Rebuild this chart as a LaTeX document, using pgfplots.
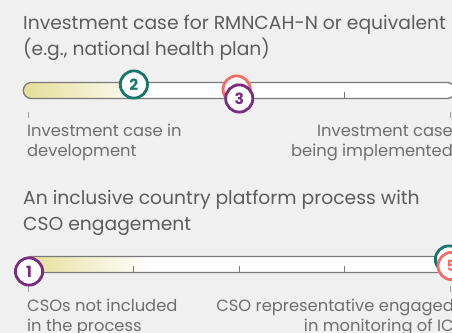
\documentclass[border=0pt]{standalone}
\usepackage{fontspec}
\setmainfont{Poppins}
\usepackage{pgfplots}
\pgfplotsset{compat=1.18}

\definecolor{bgc}{HTML}{F0F0F0}
\definecolor{titlec}{HTML}{5C5C5C}
\definecolor{labelc}{HTML}{6E6E6E}
\definecolor{trackc}{HTML}{7A7A7A}
\definecolor{tickc}{HTML}{A0A0A0}
\definecolor{fadec}{HTML}{E4DE98}
\definecolor{tealc}{HTML}{17766B}
\definecolor{coralc}{HTML}{F26D68}
\definecolor{plumc}{HTML}{7A2C7E}

% yellow only on the left part of the track, white from about x=150px
\pgfdeclarehorizontalshading{fadebar}{100bp}{color(0bp)=(fadec); color(25bp)=(fadec); color(39.7bp)=(white); color(100bp)=(white)}

\newcommand{\titlefont}{\fontsize{18.8}{18.8}\selectfont}
\newcommand{\labelfont}{\fontsize{16.4}{16.4}\selectfont}

\pgfplotsset{
  scalebar/.style={
    hide axis, clip=false,
    x=105.375bp, y=1bp,
    xmin=0, xmax=4, ymin=-15, ymax=15,
    anchor=origin,
  },
  marker/.style={
    only marks, mark=*, mark size=13.6bp,
    mark options={fill=white, draw=#1, line width=2.8bp},
    point meta=explicit symbolic,
    nodes near coords,
    every node near coord/.style={anchor=center, inner sep=0pt, text=#1,
      font=\fontsize{15.5}{15.5}\selectfont\bfseries},
  },
}

% the track: pill, fade, inner ticks at 1,2,3 and end ticks below
\newcommand{\track}{%
  \shade[shading=fadebar, rounded corners=8bp] (axis cs:-0.0494,-8) rectangle (axis cs:4.0494,8);
  \draw[trackc, line width=1.3bp, rounded corners=8bp] (axis cs:-0.0494,-8) rectangle (axis cs:4.0494,8);
  \draw[trackc, line width=0.9bp] (axis cs:1,-8) -- (axis cs:1,-1.5);
  \draw[trackc, line width=0.9bp] (axis cs:2,-8) -- (axis cs:2,-1.5);
  \draw[trackc, line width=0.9bp] (axis cs:3,-8) -- (axis cs:3,-1.5);
  \draw[tickc, line width=1bp] (axis cs:0,-21.5) -- (axis cs:0,-27.5);
  \draw[tickc, line width=1bp] (axis cs:4,-21.5) -- (axis cs:4,-27.5);
}

\begin{document}
\begin{tikzpicture}
\useasboundingbox (0,0) rectangle (452bp,-333bp);
\clip (0,0) rectangle (452bp,-333bp);
\fill[bgc] (0,0) rectangle (452bp,-333bp);

% --- section 1 ---
\node[anchor=base west, inner sep=0pt, text=titlec, font=\titlefont] at (23bp,-29.3bp) {Investment case for RMNCAH-N or equivalent};
\node[anchor=base west, inner sep=0pt, text=titlec, font=\titlefont] at (23bp,-55bp) {(e.g., national health plan)};

\begin{axis}[scalebar, at={(28.5bp,-90.5bp)}]
\track
\addplot[marker=tealc] coordinates {(1,6) [2]};
\addplot[marker=coralc] coordinates {(1.975,1) [3]};
\addplot[marker=plumc] coordinates {(2,-8) [3]};
\end{axis}

\node[anchor=base west, inner sep=0pt, text=labelc, font=\labelfont] at (27bp,-136.7bp) {Investment case in};
\node[anchor=base west, inner sep=0pt, text=labelc, font=\labelfont] at (27bp,-156.7bp) {development};
\node[anchor=base east, inner sep=0pt, text=labelc, font=\labelfont] at (453bp,-136.7bp) {Investment case};
\node[anchor=base east, inner sep=0pt, text=labelc, font=\labelfont] at (453bp,-156.7bp) {being implemented};

% --- section 2 ---
\node[anchor=base west, inner sep=0pt, text=titlec, font=\titlefont] at (23bp,-204.3bp) {An inclusive country platform process with};
\node[anchor=base west, inner sep=0pt, text=titlec, font=\titlefont] at (23bp,-230bp) {CSO engagement};

\begin{axis}[scalebar, at={(28.5bp,-264.5bp)}]
\track
\addplot[marker=tealc] coordinates {(3.99,5) [4]};
\addplot[marker=coralc] coordinates {(4.015,-1.5) [5]};
\addplot[marker=plumc] coordinates {(0.005,-7) [1]};
\end{axis}

\node[anchor=base west, inner sep=0pt, text=labelc, font=\labelfont] at (27bp,-311.7bp) {CSOs not included};
\node[anchor=base west, inner sep=0pt, text=labelc, font=\labelfont] at (27bp,-331bp) {in the process};
\node[anchor=base east, inner sep=0pt, text=labelc, font=\labelfont] at (454bp,-311.7bp) {CSO representative engaged};
\node[anchor=base east, inner sep=0pt, text=labelc, font=\labelfont] at (454bp,-331bp) {in monitoring of IC};
\end{tikzpicture}
\end{document}
